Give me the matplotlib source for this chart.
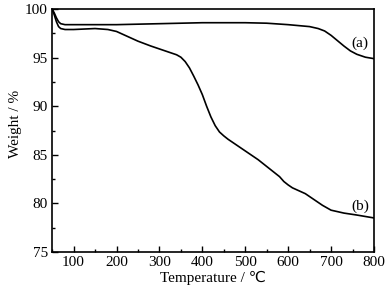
import matplotlib
matplotlib.use('Agg')
import matplotlib.pyplot as plt
from matplotlib.ticker import MultipleLocator

plt.rcParams['font.family'] = ['Liberation Serif', 'DejaVu Sans']

temp_a = [50, 55, 60, 65, 70, 80, 100, 150, 200, 250, 300, 350, 400, 450, 500,
          550, 600, 650, 670, 685, 700, 715, 730, 745, 760, 780, 800]
weight_a = [100, 99.6, 99.1, 98.7, 98.5, 98.4, 98.4, 98.4, 98.4, 98.45, 98.5, 98.55,
            98.6, 98.6, 98.6, 98.55, 98.4, 98.2, 98.0, 97.75, 97.3, 96.75, 96.2,
            95.7, 95.35, 95.05, 94.9]

temp_b = [50, 55, 60, 65, 70, 80, 100, 150, 180, 200, 220, 250, 280, 300, 320, 340,
          350, 360, 370, 380, 390, 400, 410, 420, 430, 440, 450, 460, 480, 500, 530,
          560, 570, 580, 590, 600, 610, 620, 640, 660, 680, 700, 730, 760, 800]
weight_b = [100, 99.4, 98.7, 98.2, 98.0, 97.9, 97.9, 98.0, 97.9, 97.7, 97.3, 96.7,
            96.2, 95.9, 95.6, 95.3, 95.05, 94.6, 93.95, 93.1, 92.2, 91.2, 90.0, 88.9,
            88.0, 87.35, 86.95, 86.6, 86.0, 85.4, 84.5, 83.45, 83.1, 82.75, 82.25,
            81.9, 81.6, 81.4, 81.0, 80.4, 79.8, 79.3, 79.0, 78.8, 78.5]

fig = plt.figure(figsize=(3.92, 2.85), dpi=100)
ax = fig.add_axes([0.133, 0.116, 0.821, 0.852])

ax.plot(temp_a, weight_a, color='black', lw=1.2)
ax.plot(temp_b, weight_b, color='black', lw=1.2)

ax.text(767, 96.5, '(a)', fontsize=11, ha='center', va='center')
ax.text(768, 79.7, '(b)', fontsize=11, ha='center', va='center')

ax.set_xlim(50, 800)
ax.set_ylim(75, 100)
ax.xaxis.set_major_locator(MultipleLocator(100))
ax.xaxis.set_minor_locator(MultipleLocator(50))
ax.yaxis.set_major_locator(MultipleLocator(5))
ax.yaxis.set_minor_locator(MultipleLocator(2.5))
ax.tick_params(which='both', direction='in', labelsize=11, width=1)
ax.tick_params(which='major', length=4, pad=3)
ax.tick_params(which='minor', length=2.5)
for s in ax.spines.values():
    s.set_linewidth(1.2)

ax.set_xlabel('Temperature / ℃', fontsize=11, labelpad=1)
ax.set_ylabel('Weight / %', fontsize=11)
ax.yaxis.set_label_coords(-0.093, 0.527)

fig.savefig('out.png', dpi=100)
